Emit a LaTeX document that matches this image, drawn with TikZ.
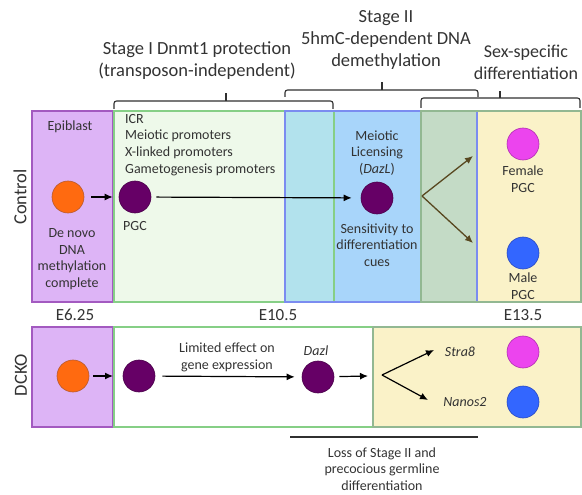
\documentclass[tikz,border=0pt]{standalone}
\usepackage{fontspec}
\setmainfont{Carlito}
\usetikzlibrary{arrows.meta}
\definecolor{txt}{HTML}{333333}
\definecolor{brc}{HTML}{303030}
\definecolor{purfill}{HTML}{DDB4F6}
\definecolor{purdraw}{HTML}{A35AC0}
\definecolor{grnfill}{HTML}{EEF9EA}
\definecolor{grndraw}{HTML}{86CF86}
\definecolor{cyanfill}{HTML}{B2E2ED}
\definecolor{bluefill}{HTML}{A8D5FA}
\definecolor{bluedraw}{HTML}{7B8CF0}
\definecolor{ggfill}{HTML}{C4DBC6}
\definecolor{yelfill}{HTML}{FAF2C8}
\definecolor{yeldraw}{HTML}{92B892}
\definecolor{olive}{HTML}{584820}
\definecolor{orangec}{HTML}{FF6A10}
\definecolor{orangeb}{HTML}{B85A30}
\definecolor{dpurple}{HTML}{660066}
\definecolor{dpurpleb}{HTML}{4A004A}
\definecolor{magc}{HTML}{EC44EE}
\definecolor{magb}{HTML}{B030B0}
\definecolor{bluec}{HTML}{3366FF}
\definecolor{blueb}{HTML}{2A4AC0}
\begin{document}
\begin{tikzpicture}[x=1pt,y=-1pt,
  small/.style={font=\fontsize{14}{16.7}\selectfont, text=txt, align=center, inner sep=0},
  big/.style={font=\fontsize{18.5}{22}\selectfont, text=txt, align=center, inner sep=0},
  elab/.style={font=\fontsize{17}{20}\selectfont, text=txt, inner sep=0},
  cellc/.style={circle, minimum size=32pt, inner sep=0, line width=0.6pt},
  orangecell/.style={cellc, fill=orangec, draw=orangeb},
  pgccell/.style={cellc, fill=dpurple, draw=dpurpleb},
  femcell/.style={cellc, fill=magc, draw=magb},
  malecell/.style={cellc, fill=bluec, draw=blueb},
  arr/.style={-{Latex[length=8pt,width=7pt]}, line width=1.2pt, draw=black},
  oarr/.style={-{Latex[length=8pt,width=7pt]}, line width=1.3pt, draw=olive},
  bracestyle/.style={draw=brc, line width=1.1pt, rounded corners=2.5pt},
  boxline/.style={line width=1.2pt}]
\useasboundingbox (0,0) rectangle (582,495);

% ---------- top row fills ----------
\fill[purfill] (32,111) rectangle (113,302);
\fill[grnfill] (114,111) rectangle (285,302);
\fill[cyanfill] (285,111) rectangle (334,302);
\fill[bluefill] (334,111) rectangle (421,302);
\fill[ggfill] (421,111) rectangle (477,302);
\fill[yelfill] (477,111) rectangle (581,302);
\draw[boxline, purdraw] (32,111) rectangle (113,302);
\draw[boxline, grndraw] (114,111) rectangle (334,302);
\draw[boxline, bluedraw] (285,111) rectangle (477,302);
\draw[boxline, yeldraw] (421,111) rectangle (581,302);

% ---------- bottom row fills ----------
\fill[purfill] (32,327) rectangle (113,427);
\draw[boxline, purdraw] (32,327) rectangle (113,427);
\draw[boxline, grndraw] (114,327) rectangle (373,427);
\fill[yelfill] (373,327) rectangle (581,427);
\draw[boxline, yeldraw] (373,327) rectangle (581,427);

% ---------- brackets ----------
\draw[bracestyle] (114,109) |- (333,101) -- (333,109);
\draw[bracestyle] (226,101) -- (226,93);
\draw[bracestyle] (285,97) |- (478,90) -- (478,97);
\draw[bracestyle] (382,90) -- (382,82);
\draw[bracestyle] (421,108) |- (580,98) -- (580,108);
\draw[bracestyle] (500,98) -- (500,91);

% ---------- headings ----------
\node[big] (h1) at (197,61) {Stage I Dnmt1 protection\\(transposon-independent)};
\node[big] (h2) at (386,40) {Stage II\\5hmC-dependent DNA\\demethylation};
\node[big, font=\fontsize{18}{22}\selectfont] (h3) at (526,62) {Sex-specific\\differentiation};

\node[big, rotate=90] (ctrl) at (20,197) {Control};
\node[big, rotate=90] (dcko) at (21,375) {DCKO};

\node[elab] (e1) at (75,315) {E6.25};
\node[elab] (e2) at (278,315) {E10.5};
\node[elab] (e3) at (523,315) {E13.5};

% ---------- control row ----------
\node[small] (epi) at (70,127) {Epiblast};
\node[small] (denovo) at (72,259) {De novo\\DNA\\methylation\\complete};
\node[orangecell] (o1) at (68,197) {};
\node[pgccell] (p1) at (135,197) {};
\node[small] (pgclab) at (135,226) {PGC};
\node[small, align=left, anchor=north west] (list) at (125,114) {ICR\\Meiotic promoters\\X-linked promoters\\Gametogenesis promoters};
\node[pgccell] (d1) at (377,198) {};
\node[small] (lic) at (377,153) {Meiotic\\Licensing\\(\textit{DazL})};
\node[small] (sens) at (377,245) {Sensitivity to\\differentiation\\cues};
\node[femcell] (fem) at (523,144) {};
\node[small] (femlab) at (523,179) {Female\\PGC};
\node[malecell] (male) at (523,253) {};
\node[small] (malelab) at (523,286) {Male\\PGC};

\draw[arr, shorten <=7pt, shorten >=6pt] (o1) -- (p1);
\draw[arr, shorten <=5pt, shorten >=9pt] (p1) -- (d1);
\coordinate (split1) at (422,196);
\coordinate (up1) at (473,156);
\coordinate (dn1) at (473,243);
\draw[oarr] (split1) -- (up1);
\draw[oarr] (split1) -- (dn1);

% ---------- DCKO row ----------
\node[orangecell] (o2) at (73,376) {};
\node[pgccell] (p2) at (139,376) {};
\node[small] (lim) at (227,357) {Limited effect on\\gene expression};
\node[pgccell] (d2) at (318,377) {};
\node[small] (dazl) at (316,351) {\textit{Dazl}};
\coordinate (o2end) at (113,376);
\coordinate (d2end) at (368,376);
\coordinate (split2) at (382,375);
\coordinate (up2) at (434,350);
\coordinate (dn2) at (428,400);
\node[small] (stra) at (460,352) {\textit{Stra8}};
\node[small] (nanos) at (465,402) {\textit{Nanos2}};
\node[femcell] (fem2) at (523,352) {};
\node[malecell] (male2) at (523,402) {};

\draw[arr, shorten <=4pt] (o2) -- (o2end);
\draw[arr, shorten <=7pt, shorten >=7pt] (p2) -- (d2);
\draw[arr, shorten <=5pt] (d2) -- (d2end);
\draw[arr] (split2) -- (up2);
\draw[arr] (split2) -- (dn2);

% ---------- bottom note ----------
\coordinate (la) at (290,437);
\coordinate (lb) at (478,437);
\draw[line width=1.2pt, brc] (la) -- (lb);
\node[small] (loss) at (382,469) {Loss of Stage II and\\precocious germline\\differentiation};
\end{tikzpicture}
\end{document}
